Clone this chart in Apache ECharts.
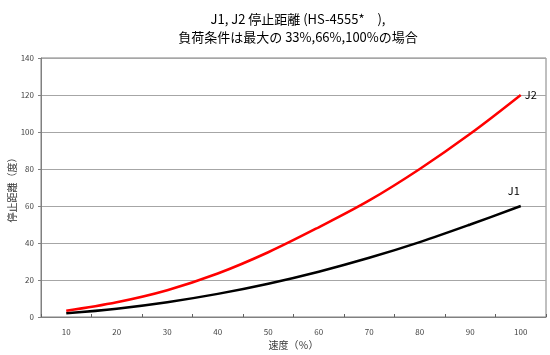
<!DOCTYPE html>
<html><head><meta charset="utf-8">
<script src="https://cdn.jsdelivr.net/npm/echarts@6/dist/echarts.min.js"></script>
<style>html,body{margin:0;padding:0;background:#fff}#c{width:550px;height:355px}</style>
</head><body><div id="c"></div>
<script>
const categories = ['10','20','30','40','50','60','70','80','90','100'];
const j1 = [2.0, 4.5, 8.0, 12.5, 18.0, 24.5, 32.0, 40.5, 50.0, 60];
const j2 = [3.4, 8.0, 14.5, 23.5, 35.0, 48.5, 63.0, 80.0, 99.0, 120];
const yTicks = [0, 20, 40, 60, 80, 100, 120, 140];
const titleLines = ['J1, J2 停止距離 (HS-4555*\u3000),', '負荷条件は最大の 33%,66%,100%の場合'];
const xName = '速度（％）';
const yName = '停止距離（度）';

const FONT = '"Noto Sans CJK JP", "DejaVu Sans", sans-serif';
const chart = echarts.init(document.getElementById('c'), null, {renderer: 'canvas'});
chart.setOption({
  animation: false,
  backgroundColor: '#fff',
  title: {
    text: titleLines.join('\n'),
    left: 293, top: 5, textAlign: 'center',
    textStyle: {fontFamily: FONT, fontSize: 13, fontWeight: 'normal', color: '#000', lineHeight: 18}
  },
  grid: {left: 41, right: 4, top: 58, bottom: 38, show: true, borderColor: '#808080', borderWidth: 1, outerBoundsMode: 'none', containLabel: false},
  xAxis: {
    type: 'category', data: categories, boundaryGap: true,
    name: xName, nameLocation: 'middle', nameGap: 23, nameMoveOverlap: false,
    nameTextStyle: {fontFamily: FONT, fontSize: 10, color: '#333'},
    axisLine: {lineStyle: {color: '#808080'}},
    axisTick: {show: true, inside: true, length: 3, lineStyle: {color: '#606060'}},
    axisLabel: {fontFamily: FONT, fontSize: 8, color: '#444', margin: 11},
    splitLine: {show: false}
  },
  yAxis: {
    type: 'value', min: yTicks[0], max: yTicks[yTicks.length-1], interval: 20,
    name: yName, nameLocation: 'middle', nameGap: 24, nameRotate: 90, nameMoveOverlap: false,
    nameTextStyle: {fontFamily: FONT, fontSize: 10, color: '#333'},
    axisLine: {show: true, lineStyle: {color: '#808080'}},
    axisTick: {show: true, length: 3, lineStyle: {color: '#808080'}},
    axisLabel: {fontFamily: FONT, fontSize: 8, color: '#444', margin: 7},
    splitLine: {show: true, lineStyle: {color: '#a6a6a6', width: 1}}
  },
  series: [
    {
      name: 'J1', type: 'line', data: j1,
      smooth: 0.35, symbol: 'none', showSymbol: false,
      lineStyle: {color: '#000', width: 2.5},
      endLabel: {show: true, formatter: 'J1', fontFamily: FONT, fontSize: 11, color: '#000', offset: [-21, -15]}
    },
    {
      name: 'J2', type: 'line', data: j2,
      smooth: 0.35, symbol: 'none', showSymbol: false,
      lineStyle: {color: '#ff0000', width: 2.5},
      endLabel: {show: true, formatter: 'J2', fontFamily: FONT, fontSize: 11, color: '#000', distance: 4}
    }
  ]
});
</script></body></html>
